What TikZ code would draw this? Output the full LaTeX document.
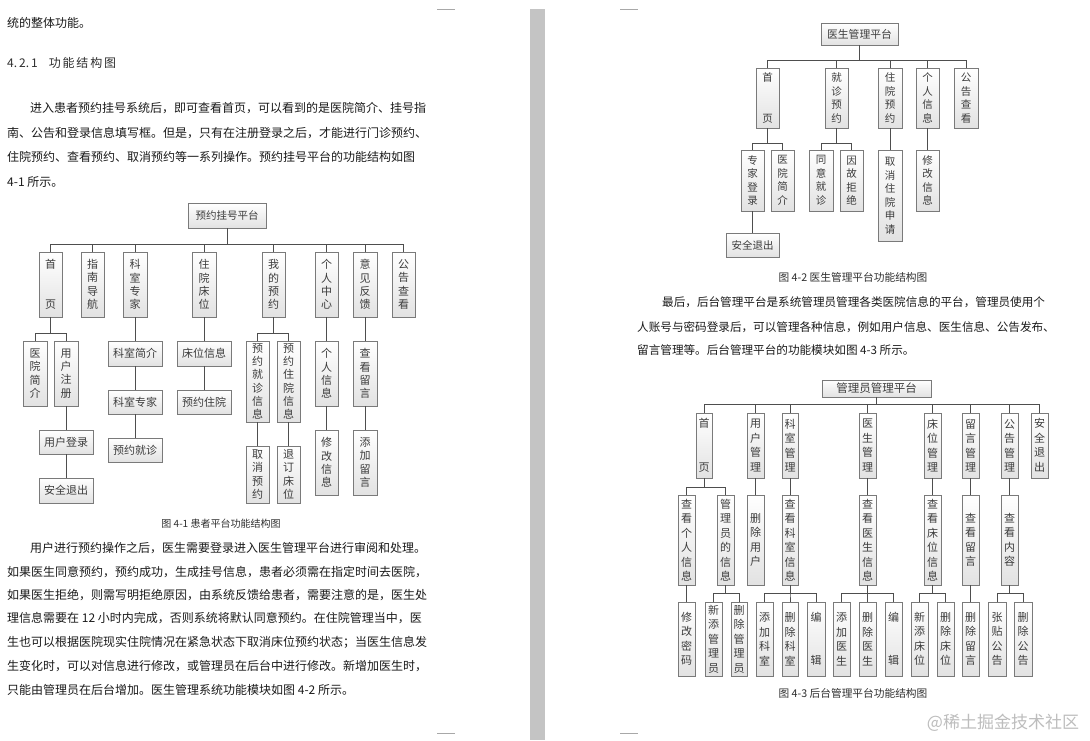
\documentclass[tikz,border=0pt]{standalone}
\usepackage{fontspec}
\setmainfont{Noto Sans CJK SC}
\usetikzlibrary{shadows}
\XeTeXlinebreaklocale "zh"
\XeTeXlinebreakskip=0pt plus 2pt
\setlength{\parindent}{0pt}
\definecolor{txt}{HTML}{1A1A1A}
\definecolor{headc}{HTML}{2E2E2E}
\definecolor{bdr}{HTML}{7A7A7A}
\definecolor{bfill}{HTML}{E2E2E2}
\definecolor{btxt}{HTML}{3C3C3C}
\definecolor{lnc}{HTML}{4E4E4E}
\definecolor{barc}{HTML}{C4C4C4}
\definecolor{markc}{HTML}{A8A8A8}
\definecolor{wmc}{HTML}{BDBDBD}
\newcommand\JL[1]{\parfillskip=0pt\relax #1}
\newcommand\hs{\hspace{1.8pt}}
\newcommand\bx[7][]{%
  \pgfmathsetmacro\bxw{#5-#3}%
  \pgfmathsetmacro\bxh{#6-#4}%
  \pgfmathsetmacro\bxcx{(#3+#5)/2}%
  \pgfmathsetmacro\bxcy{(#4+#6)/2}%
  \node[tbox,#1,minimum width=\bxw pt,minimum height=\bxh pt] (#2) at (\bxcx,\bxcy) {#7};%
}
\newcommand\tb[3]{\draw[conn] (#1.south) -- (#1.south |- 0,#2) -| (#3.north);}
\newcommand\td[2]{\draw[conn] (#1.south) -- (#2.north);}
\begin{document}
\begin{tikzpicture}[x=1pt,y=-1pt,
  tbox/.style={draw=bdr, line width=0.7pt, top color=white, bottom color=bfill,
    inner sep=0pt, text=btxt, align=center,
    drop shadow={shadow xshift=1.2pt, shadow yshift=-1.2pt, fill=black, opacity=0.25}},
  dA/.style={font=\fontsize{11}{13.3}\selectfont},
  dB/.style={font=\fontsize{10.5}{13.5}\selectfont},
  dC/.style={font=\fontsize{11}{14.5}\selectfont},
  conn/.style={draw=lnc, line width=0.9pt},
  ptxt/.style={font=\fontsize{12}{14}\selectfont, text=txt, inner sep=0pt, anchor=west},
  rtxt/.style={font=\fontsize{11.6}{14}\selectfont, text=txt, inner sep=0pt, anchor=west},
  jline/.style={ptxt, text width=#1, align=justify},
  rjline/.style={rtxt, text width=#1, align=justify},
  capt/.style={text=headc, inner sep=0pt},
  pmark/.style={draw=markc, line width=0.8pt}
]
\useasboundingbox (0,0) rectangle (1090,740);
\fill[white] (0,0) rectangle (1090,740);

% page separator and corner marks
\fill[barc] (530,9) rectangle (545,740);
\draw[pmark] (437,9) -- (455,9);
\draw[pmark] (620,9) -- (638,9);
\draw[pmark] (437,733) -- (455,733);
\draw[pmark] (620,733) -- (638,733);

% ---------- left page text ----------
\node[ptxt] (t0) at (7,23) {统的整体功能。};
\node[ptxt, text=headc] (hd) at (7,63) {4.\,2.\,1\hspace{11pt}功\hs 能\hs 结\hs 构\hs 图};
\node[jline=405pt] (p1a) at (30,108) {\JL{进入患者预约挂号系统后，即可查看首页，可以看到的是医院简介、挂号指}};
\node[jline=428pt] (p1b) at (7,133) {\JL{南、公告和登录信息填写框。但是，只有在注册登录之后，才能进行门诊预约、}};
\node[jline=428pt] (p1c) at (7,157) {\JL{住院预约、查看预约、取消预约等一系列操作。预约挂号平台的功能结构如图}};
\node[ptxt] (p1d) at (7,182) {4-1 所示。};

\node[jline=405pt] (p2a) at (30,548) {\JL{用户进行预约操作之后，医生需要登录进入医生管理平台进行审阅和处理。}};
\node[jline=428pt] (p2b) at (7,572) {\JL{如果医生同意预约，预约成功，生成挂号信息，患者必须需在指定时间去医院，}};
\node[jline=428pt] (p2c) at (7,595) {\JL{如果医生拒绝，则需写明拒绝原因，由系统反馈给患者，需要注意的是，医生处}};
\node[jline=428pt] (p2d) at (7,618) {\JL{理信息需要在 12 小时内完成，否则系统将默认同意预约。在住院管理当中，医}};
\node[jline=428pt] (p2e) at (7,642) {\JL{生也可以根据医院现实住院情况在紧急状态下取消床位预约状态；当医生信息发}};
\node[jline=428pt] (p2f) at (7,666) {\JL{生变化时，可以对信息进行修改，或管理员在后台中进行修改。新增加医生时，}};
\node[ptxt] (p2g) at (7,690) {只能由管理员在后台增加。医生管理系统功能模块如图 4-2 所示。};

% ---------- right page text ----------
\node[rjline=400pt] (p3a) at (662,302) {\JL{最后，后台管理平台是系统管理员管理各类医院信息的平台，管理员使用个}};
\node[rjline=425pt] (p3b) at (637,327) {\JL{人账号与密码登录后，可以管理各种信息，例如用户信息、医生信息、公告发布、}};
\node[rtxt] (p3c) at (637,350) {留言管理等。后台管理平台的功能模块如图 4-3 所示。};

% ---------- Diagram 4-1 ----------
\bx[dA,font=\fontsize{10.5}{13}\selectfont]{r1}{188}{203}{266}{228}{预约挂号平台}
\bx[dA]{a1}{39}{252}{62}{317}{首\\~\\~\\页}
\bx[dA]{a2}{81}{252}{104}{317}{指\\南\\导\\航}
\bx[dA]{a3}{123}{252}{147}{317}{科\\室\\专\\家}
\bx[dA]{a4}{192}{252}{216}{317}{住\\院\\床\\位}
\bx[dA]{a5}{262}{252}{285}{317}{我\\的\\预\\约}
\bx[dA]{a6}{315}{252}{338}{317}{个\\人\\中\\心}
\bx[dA]{a7}{353}{252}{377}{317}{意\\见\\反\\馈}
\bx[dA]{a8}{392}{252}{415}{317}{公\\告\\查\\看}
\bx[dA]{b1}{23}{341}{47}{406}{医\\院\\简\\介}
\bx[dA]{b2}{54}{341}{78}{406}{用\\户\\注\\册}
\bx[dA]{b3}{39}{430}{93}{454}{用户登录}
\bx[dA]{b4}{39}{478}{93}{503}{安全退出}
\bx[dA]{c1}{108}{341}{162}{366}{科室简介}
\bx[dA]{c2}{108}{390}{162}{414}{科室专家}
\bx[dA]{c3}{108}{438}{162}{462}{预约就诊}
\bx[dA]{d1}{177}{341}{231}{366}{床位信息}
\bx[dA]{d2}{177}{390}{231}{414}{预约住院}
\bx[dA]{e1}{246}{341}{269}{422}{预\\约\\就\\诊\\信\\息}
\bx[dA]{e2}{277}{341}{300}{422}{预\\约\\住\\院\\信\\息}
\bx[dA]{e3}{246}{446}{269}{503}{取\\消\\预\\约}
\bx[dA]{e4}{277}{446}{300}{503}{退\\订\\床\\位}
\bx[dA]{f1}{315}{341}{338}{406}{个\\人\\信\\息}
\bx[dA]{f2}{315}{430}{338}{495}{修\\改\\信\\息}
\bx[dA]{g1}{353}{341}{377}{406}{查\\看\\留\\言}
\bx[dA]{g2}{353}{430}{377}{495}{添\\加\\留\\言}
\foreach \c in {a1,a2,a3,a4,a5,a6,a7,a8}{\tb{r1}{244}{\c}}
\tb{a1}{333}{b1} \tb{a1}{333}{b2}
\td{b2}{b3} \td{b3}{b4}
\td{a3}{c1} \td{c1}{c2} \td{c2}{c3}
\td{a4}{d1} \td{d1}{d2}
\tb{a5}{333}{e1} \tb{a5}{333}{e2}
\td{e1}{e3} \td{e2}{e4}
\td{a6}{f1} \td{f1}{f2}
\td{a7}{g1} \td{g1}{g2}
\node[capt, font=\fontsize{10}{12}\selectfont] (cap1) at (221,524) {图 4-1 患者平台功能结构图};

% ---------- Diagram 4-2 ----------
\bx[dB,font=\fontsize{10.8}{13}\selectfont]{r2}{821}{23}{898}{45}{医生管理平台}
\bx[dB]{h1}{756}{68}{779}{128}{首\\~\\~\\页}
\bx[dB]{h2}{825}{68}{848}{128}{就\\诊\\预\\约}
\bx[dB]{h3}{878}{68}{902}{128}{住\\院\\预\\约}
\bx[dB]{h4}{916}{68}{939}{128}{个\\人\\信\\息}
\bx[dB]{h5}{954}{68}{978}{128}{公\\告\\查\\看}
\bx[dB]{i1}{741}{150}{764}{211}{专\\家\\登\\录}
\bx[dB]{i2}{771}{150}{794}{211}{医\\院\\简\\介}
\bx[dB]{i3}{726}{233}{779}{257}{安全退出}
\bx[dB]{j1}{809}{150}{833}{211}{同\\意\\就\\诊}
\bx[dB]{j2}{840}{150}{863}{211}{因\\故\\拒\\绝}
\bx[dB]{k1}{878}{150}{902}{241}{取\\消\\住\\院\\申\\请}
\bx[dB]{l1}{916}{150}{939}{211}{修\\改\\信\\息}
\foreach \c in {h1,h2,h3,h4,h5}{\tb{r2}{60}{\c}}
\tb{h1}{143}{i1} \tb{h1}{143}{i2}
\td{i1}{i3}
\tb{h2}{143}{j1} \tb{h2}{143}{j2}
\td{h3}{k1}
\td{h4}{l1}
\node[capt, font=\fontsize{10.7}{12}\selectfont] (cap2) at (853,277) {图 4-2 医生管理平台功能结构图};

% ---------- Diagram 4-3 ----------
\bx[dC,font=\fontsize{11.5}{13}\selectfont]{r3}{822}{380}{931}{397}{管理员管理平台}
\bx[dC]{m1}{696}{413}{712}{478}{首\\~\\~\\页}
\bx[dC]{m2}{747}{413}{764}{478}{用\\户\\管\\理}
\bx[dC]{m3}{782}{413}{798}{478}{科\\室\\管\\理}
\bx[dC]{m4}{859}{413}{876}{478}{医\\生\\管\\理}
\bx[dC]{m5}{924}{413}{941}{478}{床\\位\\管\\理}
\bx[dC]{m6}{962}{413}{979}{478}{留\\言\\管\\理}
\bx[dC]{m7}{1001}{413}{1018}{478}{公\\告\\管\\理}
\bx[dC]{m8}{1031}{413}{1048}{478}{安\\全\\退\\出}
\bx[dC]{n1}{678}{495}{695}{585}{查\\看\\个\\人\\信\\息}
\bx[dC]{n2}{717}{495}{734}{585}{管\\理\\员\\的\\信\\息}
\bx[dC]{n3}{747}{495}{764}{585}{删\\除\\用\\户}
\bx[dC]{n4}{782}{495}{798}{585}{查\\看\\科\\室\\信\\息}
\bx[dC]{n5}{859}{495}{876}{585}{查\\看\\医\\生\\信\\息}
\bx[dC]{n6}{924}{495}{941}{585}{查\\看\\床\\位\\信\\息}
\bx[dC]{n7}{962}{495}{979}{585}{查\\看\\留\\言}
\bx[dC]{n8}{1001}{495}{1018}{585}{查\\看\\内\\容}
\bx[dC]{o1}{678}{602}{695}{676}{修\\改\\密\\码}
\bx[dC]{o2}{705}{602}{722}{676}{新\\添\\管\\理\\员}
\bx[dC]{o3}{731}{602}{747}{676}{删\\除\\管\\理\\员}
\bx[dC]{o4}{756}{602}{773}{676}{添\\加\\科\\室}
\bx[dC]{o5}{782}{602}{798}{676}{删\\除\\科\\室}
\bx[dC]{o6}{807}{602}{825}{676}{编\\~\\~\\辑}
\bx[dC]{o7}{833}{602}{850}{676}{添\\加\\医\\生}
\bx[dC]{o8}{859}{602}{876}{676}{删\\除\\医\\生}
\bx[dC]{o9}{885}{602}{902}{676}{编\\~\\~\\辑}
\bx[dC]{o10}{911}{602}{928}{676}{新\\添\\床\\位}
\bx[dC]{o11}{937}{602}{954}{676}{删\\除\\床\\位}
\bx[dC]{o12}{962}{602}{979}{676}{删\\除\\留\\言}
\bx[dC]{o13}{988}{602}{1006}{676}{张\\贴\\公\\告}
\bx[dC]{o14}{1014}{602}{1032}{676}{删\\除\\公\\告}
\foreach \c in {m1,m2,m3,m4,m5,m6,m7,m8}{\tb{r3}{404}{\c}}
\tb{m1}{487}{n1} \tb{m1}{487}{n2}
\td{m2}{n3} \td{m3}{n4} \td{m4}{n5} \td{m5}{n6} \td{m6}{n7} \td{m7}{n8}
\td{n1}{o1}
\tb{n2}{593}{o2} \tb{n2}{593}{o3}
\tb{n4}{593}{o4} \tb{n4}{593}{o5} \tb{n4}{593}{o6}
\tb{n5}{593}{o7} \tb{n5}{593}{o8} \tb{n5}{593}{o9}
\tb{n6}{593}{o10} \tb{n6}{593}{o11}
\td{n7}{o12}
\tb{n8}{593}{o13} \tb{n8}{593}{o14}
\node[capt, font=\fontsize{10.7}{12}\selectfont] (cap3) at (853,693) {图 4-3 后台管理平台功能结构图};

% watermark
\node[text=wmc, inner sep=0pt, font=\fontsize{17}{20}\selectfont] (wm) at (1003,723) {@稀土掘金技术社区};
\end{tikzpicture}
\end{document}
